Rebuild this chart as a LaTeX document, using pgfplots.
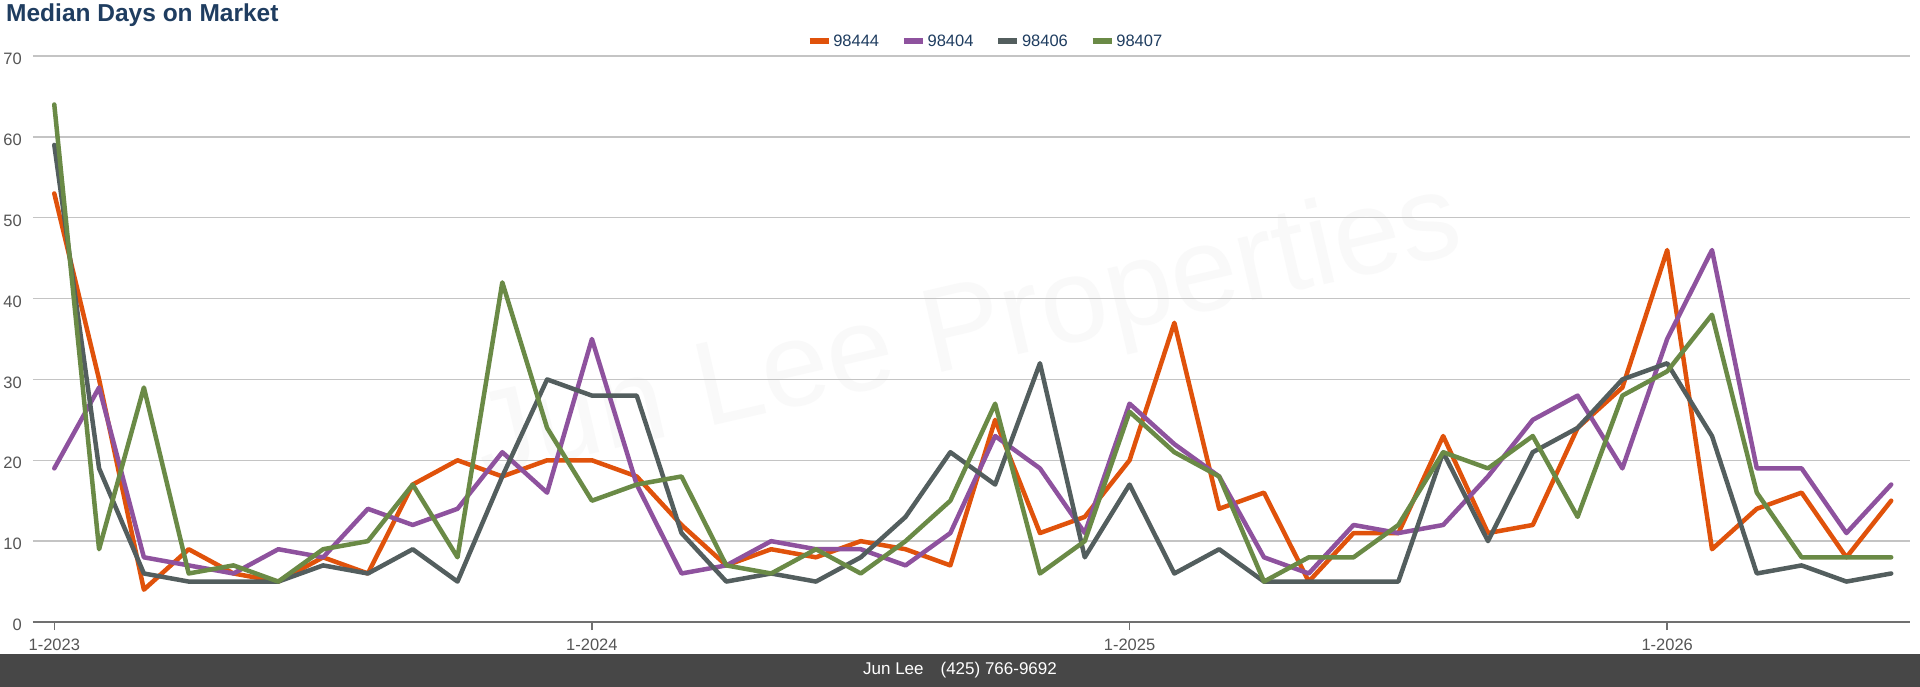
\documentclass[border=0pt]{standalone}
\usepackage{pgfplots}
\usepackage{pgfplotstable}
\pgfplotsset{compat=1.18}
\usepackage{fontspec}
\setmainfont{Liberation Sans}
\definecolor{c1}{HTML}{E0520B}
\definecolor{c2}{HTML}{8E529E}
\definecolor{c3}{HTML}{535E5E}
\definecolor{c4}{HTML}{6A8A46}
\definecolor{navy}{HTML}{1F3D60}
\definecolor{tickc}{HTML}{555555}
\definecolor{footer}{HTML}{474747}
\definecolor{gridc}{HTML}{C4C4C4}
\definecolor{axisc}{HTML}{707070}

\pgfplotstableread{
m a b c d
0 53 19 59 64
1 30 29 19 9
2 4 8 6 29
3 9 7 5 6
4 6 6 5 7
5 5 9 5 5
6 8 8 7 9
7 6 14 6 10
8 17 12 9 17
9 20 14 5 8
10 18 21 18 42
11 20 16 30 24
12 20 35 28 15
13 18 17 28 17
14 12 6 11 18
15 7 7 5 7
16 9 10 6 6
17 8 9 5 9
18 10 9 8 6
19 9 7 13 10
20 7 11 21 15
21 25 23 17 27
22 11 19 32 6
23 13 11 8 10
24 20 27 17 26
25 37 22 6 21
26 14 18 9 18
27 16 8 5 5
28 5 6 5 8
29 11 12 5 8
30 11 11 5 12
31 23 12 21 21
32 11 18 10 19
33 12 25 21 23
34 24 28 24 13
35 29 19 30 28
36 46 35 32 31
37 9 46 23 38
38 14 19 6 16
39 16 19 7 8
40 8 11 5 8
41 15 17 6 8
}\data

\begin{document}
\begin{tikzpicture}
\path[use as bounding box] (0bp,0bp) rectangle (1920bp,687bp);
\fill[white] (0bp,0bp) rectangle (1920bp,687bp);
% footer
\fill[footer] (0bp,0bp) rectangle (1920bp,33bp);
\node[text=white, font=\fontsize{17bp}{20bp}\selectfont] at (960bp,16.5bp) {Jun Lee\hspace{1em}(425) 766-9692};
% title
\node[anchor=west, inner sep=0pt, text=navy, font=\fontsize{24.5bp}{28bp}\selectfont\bfseries] at (6bp,672bp) {Median Days on Market};
% watermark
\node[rotate=13, text=black!2.5, font=\fontsize{120bp}{140bp}\selectfont] at (968bp,352bp) {Jun Lee Properties};
\begin{axis}[
  at={(33bp,65bp)}, anchor=south west,
  scale only axis, width=1877bp, height=566bp,
  xmin=-0.475, xmax=41.42, ymin=0, ymax=70,
  ytick={0,10,...,70},
  xtick={0,12,24,36},
  xticklabels={1-2023,1-2024,1-2025,1-2026},
  ymajorgrids, grid style={draw=gridc, line width=1.4bp},
  axis x line*=bottom, axis y line*=left,
  x axis line style={draw=axisc, line width=2.6bp, -},
  y axis line style={draw=none},
  xtick align=outside,
  major tick length=8bp,
  xtick style={draw=axisc, line width=1.5bp},
  ytick style={draw=none},
  /pgf/number format/assume math mode=true,
  ticklabel style={text=tickc, font=\fontsize{16.5bp}{19bp}\selectfont},
  yticklabel style={anchor=east, inner sep=0pt, xshift=-11bp, yshift=-3bp},
  xticklabel style={anchor=center, inner sep=0pt, yshift=-15bp},
  legend style={at={(0.5,1)}, anchor=center, xshift=14bp, yshift=15bp,
    draw=none, fill=none, text=navy, font=\fontsize{16.5bp}{19bp}\selectfont,
    legend columns=4, /tikz/every even column/.append style={column sep=20bp},
    inner sep=0pt},
  legend image code/.code={\draw[#1, line width=5.5bp, line cap=butt] (0bp,0bp) -- (19bp,0bp);},
  every axis plot/.append style={line width=4.5bp, line join=round, line cap=round, mark=none},
]
\addplot[c1] table[x=m, y=a] {\data};
\addplot[c2] table[x=m, y=b] {\data};
\addplot[c3] table[x=m, y=c] {\data};
\addplot[c4] table[x=m, y=d] {\data};
\legend{98444,98404,98406,98407}
\end{axis}
\end{tikzpicture}
\end{document}
